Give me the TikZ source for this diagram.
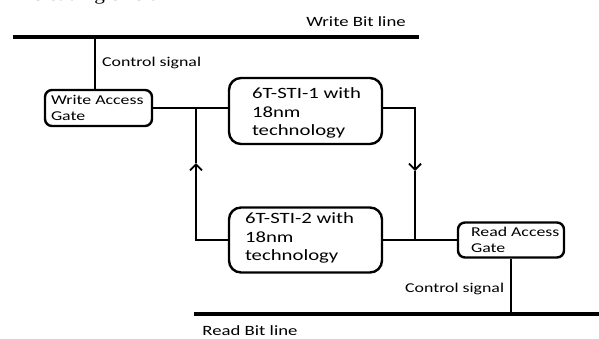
\documentclass[tikz,border=0pt]{standalone}
\usepackage{fontspec}
\setmainfont{Carlito}[FakeStretch=1.32]
\newfontfamily\serifx{Liberation Serif}[FakeStretch=1.25]
\usetikzlibrary{arrows.meta}
\begin{document}
\begin{tikzpicture}[x=1pt,y=-1pt,
  gate/.style={draw, line width=2.4pt, rounded corners=7pt, inner sep=0pt},
  cell/.style={draw, line width=2.4pt, rounded corners=12pt, inner sep=0pt},
  wire/.style={line width=2.4pt},
  busline/.style={line width=3.8pt},
  small/.style={font=\fontsize{13.5}{15.5}\selectfont, inner sep=0pt, align=left},
  big/.style={font=\fontsize{15.7}{18.5}\selectfont, inner sep=0pt, align=left},
  arr/.style={-{Straight Barb[length=6pt,width=12pt,line width=1.8pt]}}]
\useasboundingbox (0,0) rectangle (599,338);
\clip (0,0) rectangle (599,338);
% clipped fragment of the page text above
\node[anchor=base east, inner sep=0pt, font=\serifx\fontsize{17}{20}\selectfont] (frag) at (156,0.5) {misleading error.};
% bit lines
\coordinate (wbl1) at (13,37);
\coordinate (wbl2) at (419,37);
\coordinate (rbl1) at (194,314);
\coordinate (rbl2) at (599,314);
\draw[busline] (wbl1) -- (wbl2);
\draw[busline] (rbl1) -- (rbl2);
\node[anchor=base, inner sep=0pt, font=\fontsize{14.2}{16}\selectfont] (wbltxt) at (356,26.5) {Write Bit line};
\node[anchor=base, inner sep=0pt, font=\fontsize{14.2}{16}\selectfont] (rbltxt) at (250,335) {Read Bit line};
% boxes
\node[gate, minimum width=107pt, minimum height=36pt] (wag) at (98.5,108) {};
\node[small, anchor=west] (wagtxt) at ([xshift=7pt]wag.west) {Write Access\\Gate};
\node[cell, minimum width=153pt, minimum height=66pt] (sti1) at (305.5,111) {};
\node[big, anchor=west] (sti1txt) at ([xshift=24pt,yshift=-2pt]sti1.west) {6T-STI-1 with\\18nm\\technology};
\node[cell, minimum width=153pt, minimum height=65pt] (sti2) at (305.5,240) {};
\node[big, anchor=west] (sti2txt) at ([xshift=17pt,yshift=2pt]sti2.west) {6T-STI-2 with\\18nm\\technology};
\node[gate, minimum width=106pt, minimum height=35pt] (rag) at (511,240) {};
\node[small, anchor=west] (ragtxt) at ([xshift=14pt]rag.west) {Read Access\\Gate};
% control signals
\draw[wire] (wag.north -| 95,0) -- (wbl1 -| 95,0);
\node[anchor=base west, inner sep=0pt, font=\fontsize{13.5}{15.5}\selectfont] (cs1) at (102,66) {Control signal};
\draw[wire] (rag.south) -- (rag.south |- rbl1);
\node[anchor=base west, inner sep=0pt, font=\fontsize{13.5}{15.5}\selectfont] (cs2) at (405,292) {Control signal};
% loop
\coordinate (jL) at (196,108);
\coordinate (aL) at (196,163);
\coordinate (bL) at (196,240);
\coordinate (jR) at (415,240);
\coordinate (aR) at (415,171);
\coordinate (tR) at (415,108);
\draw[wire] (wag.east) -- (wag.east -| sti1.west);
\draw[wire] (jL) -- (aL);
\draw[wire, arr] (sti2.west) -- (bL) -- (aL);
\draw[wire, arr] (sti1.east |- tR) -- (tR) -- (aR);
\draw[wire] (aR) -- (jR);
\draw[wire] (sti2.east) -- (rag.west);
\end{tikzpicture}
\end{document}
